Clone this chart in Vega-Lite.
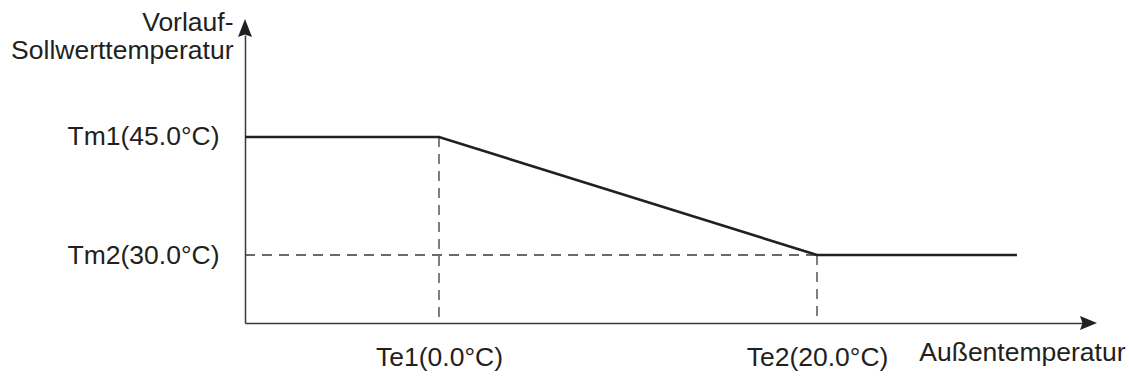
{
  "$schema": "https://vega.github.io/schema/vega-lite/v6.json",
  "width": 840,
  "height": 288,
  "autosize": {"type": "none"},
  "padding": {"left": 245, "top": 35, "right": 44, "bottom": 58},
  "background": "white",
  "config": {
    "view": {"stroke": null},
    "font": "Liberation Sans",
    "axis": {"labelFont": "Liberation Sans", "titleFont": "Liberation Sans"}
  },
  "layer": [
    {
      "data": {"values": [
        {"x": 0, "y": 45, "x2": 0, "y2": 21.356},
        {"x": 20, "y": 30, "x2": 20, "y2": 21.356},
        {"x": -10.265, "y": 30, "x2": 20, "y2": 30}
      ]},
      "mark": {"type": "rule", "strokeDash": [10, 7], "strokeWidth": 1.3, "color": "#3a3a3a"},
      "encoding": {
        "x": {"field": "x", "type": "quantitative", "scale": {"domain": [-10.265, 34.18], "nice": false, "zero": false},
          "axis": {
            "values": [0, 20],
            "labelExpr": "datum.value == 0 ? 'Te1(0.0°C)' : 'Te2(20.0°C)'",
            "grid": false, "ticks": false, "tickSize": 0,
            "domain": true, "domainColor": "#3a3a3a", "domainWidth": 1.5,
            "labelFontSize": 26.5, "labelColor": "#231f20", "labelPadding": 21, "labelFlush": false, "labelOverlap": false,
            "title": "Außentemperatur", "titleFontSize": 26.5, "titleFontWeight": "normal", "titleColor": "#231f20",
            "titleAlign": "right", "titleBaseline": "alphabetic", "titleX": 880, "titleY": 37, "titleAnchor": "end"
          }},
        "x2": {"field": "x2"},
        "y": {"field": "y", "type": "quantitative", "scale": {"domain": [21.356, 57.966], "nice": false, "zero": false},
          "axis": {
            "values": [30, 45],
            "labelExpr": "datum.value == 30 ? 'Tm2(30.0°C)' : 'Tm1(45.0°C)'",
            "grid": false, "ticks": false, "tickSize": 0,
            "domain": true, "domainColor": "#3a3a3a", "domainWidth": 1.5,
            "labelFontSize": 26.5, "labelColor": "#231f20", "labelPadding": 26, "labelFlush": false, "labelOverlap": false,
            "title": ["Vorlauf-", "Sollwerttemperatur"], "titleFontSize": 26.5, "titleFontWeight": "normal", "titleColor": "#231f20",
            "titleAngle": 0, "titleAlign": "right", "titleBaseline": "alphabetic", "titleX": -12, "titleY": -5, "titleLineHeight": 28
          }},
        "y2": {"field": "y2"}
      }
    },
    {
      "data": {"values": [
        {"x": -10.265, "y": 45},
        {"x": 0, "y": 45},
        {"x": 20, "y": 30},
        {"x": 30.58, "y": 30}
      ]},
      "mark": {"type": "line", "color": "#231f20", "strokeWidth": 2.6},
      "encoding": {
        "x": {"field": "x", "type": "quantitative", "scale": {"domain": [-10.265, 34.18], "nice": false, "zero": false}},
        "y": {"field": "y", "type": "quantitative", "scale": {"domain": [21.356, 57.966], "nice": false, "zero": false}}
      }
    },
    {
      "data": {"values": [{"x": 34.18, "y": 21.356}]},
      "mark": {"type": "point", "filled": true, "opacity": 1, "color": "#231f20", "size": 400,
        "shape": "M-0.5,-0.7L1.2,0L-0.5,0.7L-0.25,0Z"},
      "encoding": {
        "x": {"field": "x", "type": "quantitative", "scale": {"domain": [-10.265, 34.18], "nice": false, "zero": false}},
        "y": {"field": "y", "type": "quantitative", "scale": {"domain": [21.356, 57.966], "nice": false, "zero": false}}
      }
    },
    {
      "data": {"values": [{"x": -10.265, "y": 57.966}]},
      "mark": {"type": "point", "filled": true, "opacity": 1, "color": "#231f20", "size": 400,
        "shape": "M0,-1.6L0.7,0.2L0,-0.05L-0.7,0.2Z"},
      "encoding": {
        "x": {"field": "x", "type": "quantitative", "scale": {"domain": [-10.265, 34.18], "nice": false, "zero": false}},
        "y": {"field": "y", "type": "quantitative", "scale": {"domain": [21.356, 57.966], "nice": false, "zero": false}}
      }
    }
  ]
}
